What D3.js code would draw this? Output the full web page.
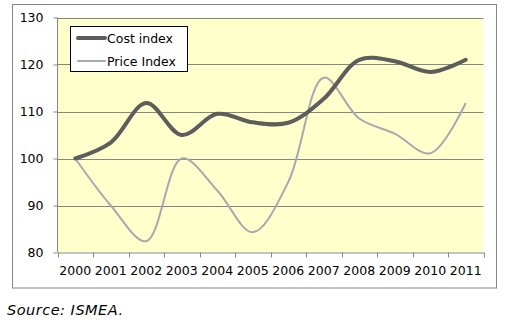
<!DOCTYPE html>
<html>
<head>
<meta charset="utf-8">
<script src="https://cdn.jsdelivr.net/npm/d3@7"></script>
<style>
  body { margin: 0; background: #fff; }
  svg { display: block; font-family: Verdana, "DejaVu Sans", sans-serif; }
</style>
</head>
<body>
<script>
// chart values
var years = ["2000","2001","2002","2003","2004","2005","2006","2007","2008","2009","2010","2011"];
var costIndex = [100, 103.4, 111.8, 105, 109.5, 107.7, 107.6, 112.7, 121, 120.7, 118.4, 121];
var priceIndex = [100, 90, 82.4, 100, 93.2, 84.3, 95, 117.2, 108.5, 105.3, 101.1, 111.8];
var yTicks = [80, 90, 100, 110, 120, 130];

var width = 505, height = 323;
var plot = {left: 57.5, right: 483.5, top: 17.5, bottom: 252.5};

var svg = d3.select("body").append("svg")
    .attr("width", width)
    .attr("height", height);

// outer chart border
svg.append("rect")
    .attr("x", 12.5).attr("y", 4.5)
    .attr("width", 484).attr("height", 283.5)
    .attr("fill", "#fff")
    .attr("stroke", "#868686");

var x = d3.scaleBand()
    .domain(years)
    .range([plot.left, plot.right]);
var y = d3.scaleLinear()
    .domain([80, 130])
    .range([plot.bottom, plot.top]);

svg.append("rect")
    .attr("x", plot.left).attr("y", plot.top)
    .attr("width", plot.right - plot.left)
    .attr("height", plot.bottom - plot.top)
    .attr("fill", "#ffffcc");

// gridlines
svg.append("g")
  .selectAll("line")
  .data(yTicks.filter(d => d > 80))
  .enter().append("line")
    .attr("x1", plot.left).attr("x2", plot.right)
    .attr("y1", d => Math.round(y(d)) + 0.5)
    .attr("y2", d => Math.round(y(d)) + 0.5)
    .attr("stroke", "#868686");

var yAxis = d3.axisLeft(y).tickValues(yTicks).tickSize(4).tickPadding(10);
var gy = svg.append("g")
    .attr("transform", `translate(${plot.left},0)`)
    .call(yAxis);
gy.select(".domain").remove();
gy.append("line")
    .attr("x1", 0).attr("x2", 0)
    .attr("y1", plot.top).attr("y2", plot.bottom)
    .attr("stroke", "#868686");
gy.selectAll(".tick line").attr("stroke", "#868686");
gy.selectAll(".tick text")
    .attr("fill", "#000")
    .style("font-size", "12.5px")
    .attr("font-family", "Verdana, 'DejaVu Sans', sans-serif");

var xAxis = d3.axisBottom(x).tickSize(0).tickPadding(14);
var gx = svg.append("g")
    .attr("transform", `translate(0,${plot.bottom})`)
    .call(xAxis);
gx.select(".domain").attr("stroke", "#868686");
gx.selectAll(".tick text")
    .attr("fill", "#000")
    .style("font-size", "12.5px")
    .attr("font-family", "Verdana, 'DejaVu Sans', sans-serif");
// category boundary ticks
gx.append("g").selectAll("line")
    .data(years.concat(["end"]))
  .enter().append("line")
    .attr("x1", (d, i) => Math.round(plot.left + i * x.step()) + 0.5)
    .attr("x2", (d, i) => Math.round(plot.left + i * x.step()) + 0.5)
    .attr("y1", 0).attr("y2", 5)
    .attr("stroke", "#868686");

var line = d3.line()
    .x((d, i) => x(years[i]) + x.bandwidth() / 2)
    .y(d => y(d))
    .curve(d3.curveCatmullRom.alpha(0.5));

svg.append("path")
    .datum(priceIndex)
    .attr("d", line)
    .attr("fill", "none")
    .attr("stroke", "#a8a8b0")
    .attr("stroke-width", 2);

svg.append("path")
    .datum(costIndex)
    .attr("d", line)
    .attr("fill", "none")
    .attr("stroke", "#5d5d5d")
    .attr("stroke-width", 4)
    .attr("stroke-linecap", "round");

// legend
var legend = svg.append("g");
legend.append("rect")
    .attr("x", 70.5).attr("y", 26.5)
    .attr("width", 117).attr("height", 45)
    .attr("fill", "#fff")
    .attr("stroke", "#000");
var legendItems = [
  {name: "Cost index", color: "#5d5d5d", w: 4, y: 38},
  {name: "Price Index", color: "#a8a8b0", w: 2, y: 61}
];
legendItems.forEach(function(d) {
  legend.append("line")
      .attr("x1", 78).attr("x2", 105)
      .attr("y1", d.y).attr("y2", d.y)
      .attr("stroke", d.color)
      .attr("stroke-width", d.w)
      .attr("stroke-linecap", "round");
  legend.append("text")
      .attr("x", 107).attr("y", d.y + 4.5)
      .style("font-size", "12.5px")
      .text(d.name);
});

svg.append("text")
    .attr("x", 7).attr("y", 315)
    .style("font-size", "14.5px")
    .style("font-style", "italic")
    .style("letter-spacing", "0.5px")
    .text("Source: ISMEA.");
</script>
</body>
</html>
